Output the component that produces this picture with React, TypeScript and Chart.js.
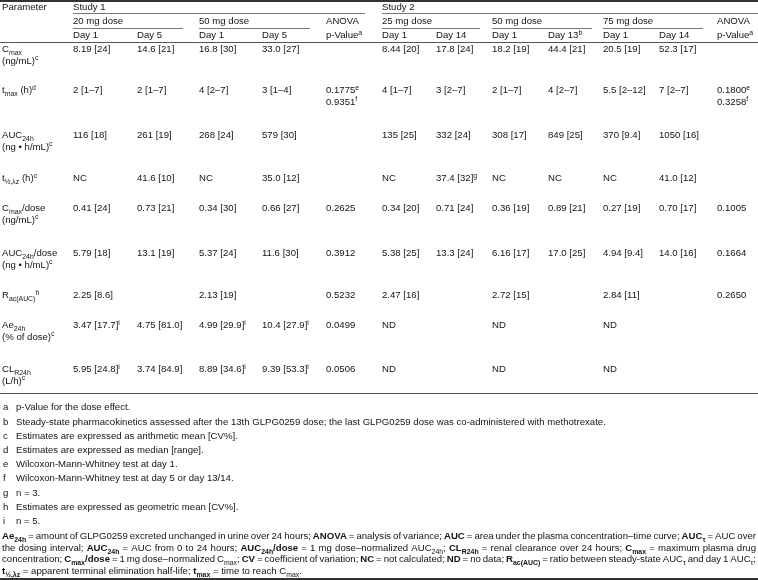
import React, { useEffect, useRef } from "react";
import { Chart, registerables } from "chart.js";

Chart.register(...registerables);

// ---------- DATA ----------
const studies = ["Study 1", "Study 2"];
const doseGroups = ["20 mg dose", "50 mg dose", "ANOVA", "25 mg dose", "50 mg dose", "75 mg dose", "ANOVA"];
const dayLabels = ["Day 1", "Day 5", "Day 1", "Day 5", "p-Value^{a}", "Day 1", "Day 14", "Day 1", "Day 13^{b}", "Day 1", "Day 14", "p-Value^{a}"];

const parameterLabels: string[][] = [
  ["C_{max}", "(ng/mL)^{c}"],
  ["t_{max} (h)^{d}"],
  ["AUC_{24h}", "(ng \u2022 h/mL)^{c}"],
  ["t_{\u00bd,\u03bbz} (h)^{c}"],
  ["C_{max}/dose", "(ng/mL)^{c}"],
  ["AUC_{24h}/dose", "(ng \u2022 h/mL)^{c}"],
  ["R_{ac(AUC)}^{h}"],
  ["Ae_{24h}", "(% of dose)^{c}"],
  ["CL_{R24h}", "(L/h)^{c}"],
];

const cmaxValues = ["8.19 [24]", "14.6 [21]", "16.8 [30]", "33.0 [27]", "", "8.44 [20]", "17.8 [24]", "18.2 [19]", "44.4 [21]", "20.5 [19]", "52.3 [17]", ""];
const tmaxValues = ["2 [1\u20137]", "2 [1\u20137]", "4 [2\u20137]", "3 [1\u20134]", "0.1775^{e}\n0.9351^{f}", "4 [1\u20137]", "3 [2\u20137]", "2 [1\u20137]", "4 [2\u20137]", "5.5 [2\u201312]", "7 [2\u20137]", "0.1800^{e}\n0.3258^{f}"];
const auc24Values = ["116 [18]", "261 [19]", "268 [24]", "579 [30]", "", "135 [25]", "332 [24]", "308 [17]", "849 [25]", "370 [9.4]", "1050 [16]", ""];
const halfLifeValues = ["NC", "41.6 [10]", "NC", "35.0 [12]", "", "NC", "37.4 [32]^{g}", "NC", "NC", "NC", "41.0 [12]", ""];
const cmaxDoseValues = ["0.41 [24]", "0.73 [21]", "0.34 [30]", "0.66 [27]", "0.2625", "0.34 [20]", "0.71 [24]", "0.36 [19]", "0.89 [21]", "0.27 [19]", "0.70 [17]", "0.1005"];
const aucDoseValues = ["5.79 [18]", "13.1 [19]", "5.37 [24]", "11.6 [30]", "0.3912", "5.38 [25]", "13.3 [24]", "6.16 [17]", "17.0 [25]", "4.94 [9.4]", "14.0 [16]", "0.1664"];
const racValues = ["2.25 [8.6]", "", "2.13 [19]", "", "0.5232", "2.47 [16]", "", "2.72 [15]", "", "2.84 [11]", "", "0.2650"];
const aeValues = ["3.47 [17.7]^{i}", "4.75 [81.0]", "4.99 [29.9]^{i}", "10.4 [27.9]^{i}", "0.0499", "ND", "", "ND", "", "ND", "", ""];
const clrValues = ["5.95 [24.8]^{i}", "3.74 [84.9]", "8.89 [34.6]^{i}", "9.39 [53.3]^{i}", "0.0506", "ND", "", "ND", "", "ND", "", ""];

const tableRows = [cmaxValues, tmaxValues, auc24Values, halfLifeValues, cmaxDoseValues, aucDoseValues, racValues, aeValues, clrValues];

const footnoteKeys = ["a", "b", "c", "d", "e", "f", "g", "h", "i"];
const footnoteTexts = [
  "p-Value for the dose effect.",
  "Steady-state pharmacokinetics assessed after the 13th GLPG0259 dose; the last GLPG0259 dose was co-administered with methotrexate.",
  "Estimates are expressed as arithmetic mean [CV%].",
  "Estimates are expressed as median [range].",
  "Wilcoxon-Mann-Whitney test at day 1.",
  "Wilcoxon-Mann-Whitney test at day 5 or day 13/14.",
  "n = 3.",
  "Estimates are expressed as geometric mean [CV%].",
  "n = 5.",
];

const abbreviationLines = [
  "*Ae_{24h}* = amount of GLPG0259 excreted unchanged in urine over 24 hours; *ANOVA* = analysis of variance; *AUC* = area under the plasma concentration\u2013time curve; *AUC_{\u03c4}* = AUC over",
  "the dosing interval; *AUC_{24h}* = AUC from 0 to 24 hours; *AUC_{24h}/dose* = 1 mg dose\u2013normalized AUC_{24h}; *CL_{R24h}* = renal clearance over 24 hours; *C_{max}* = maximum plasma drug",
  "concentration; *C_{max}/dose* = 1 mg dose\u2013normalized C_{max}; *CV* = coefficient of variation; *NC* = not calculated; *ND* = no data; *R_{ac(AUC)}* = ratio between steady-state AUC_{\u03c4} and day 1 AUC_{\u03c4};",
  "*t_{\u00bd,\u03bbz}* = apparent terminal elimination half-life; *t_{max}* = time to reach C_{max}.",
];

// ---------- LAYOUT (in scale units) ----------
const W = 758;
const H = 580;
const colX = [2, 73, 137, 199, 262, 326, 382, 436, 492, 548, 603, 659, 717];
const studyCols = [1, 6];
const doseCols = [1, 3, 5, 6, 8, 10, 12];
const studyRules = [[73, 365], [382, 758]];
const doseRules = [[73, 183], [199, 310], [382, 480], [492, 592], [603, 703]];
const headerY = [7, 21, 35];
const headerRuleY = [13, 28, 42];
const rowY = [49, 90, 135, 178, 208, 253, 295, 325, 369];
const lineGap = 11.5;
const tableBottomY = 393;
const footnoteY0 = 407;
const footnoteGap = 14.2;
const paraY0 = 536;
const paraGap = 11.5;
const FS = 9.6;
const FONT = '"Liberation Sans", Arial, Helvetica, sans-serif';
const TEXT = "#141414";

type Seg = { t: string; kind: "n" | "sub" | "sup"; bold: boolean };

function parseRich(s: string): Seg[] {
  const segs: Seg[] = [];
  let bold = false;
  let buf = "";
  let i = 0;
  const flush = () => {
    if (buf) segs.push({ t: buf, kind: "n", bold });
    buf = "";
  };
  while (i < s.length) {
    const c = s[i];
    if (c === "*") {
      flush();
      bold = !bold;
      i++;
      continue;
    }
    if ((c === "_" || c === "^") && s[i + 1] === "{") {
      flush();
      const end = s.indexOf("}", i + 2);
      segs.push({ t: s.slice(i + 2, end), kind: c === "_" ? "sub" : "sup", bold });
      i = end + 1;
      continue;
    }
    buf += c;
    i++;
  }
  flush();
  return segs;
}

function drawRich(ctx: CanvasRenderingContext2D, s: string, x: number, y: number, size: number, draw = true): number {
  let cx = x;
  for (const seg of parseRich(s)) {
    const sz = seg.kind === "n" ? size : size * 0.72;
    const dy = seg.kind === "sub" ? size * 0.28 : seg.kind === "sup" ? -size * 0.4 : 0;
    ctx.font = `${seg.bold ? "bold " : ""}${sz}px ${FONT}`;
    if (draw) ctx.fillText(seg.t, cx, y + dy);
    cx += ctx.measureText(seg.t).width;
  }
  return cx - x;
}

const tablePlugin = {
  id: "pkTable",
  afterDraw(chart: any) {
    const ctx: CanvasRenderingContext2D = chart.ctx;
    const xs = chart.scales.x;
    const ys = chart.scales.y;
    const X = (v: number) => xs.getPixelForValue(v);
    const Y = (v: number) => ys.getPixelForValue(v);
    const base = (v: number) => Y(v) + FS * 0.36;

    ctx.save();
    ctx.textBaseline = "alphabetic";
    ctx.textAlign = "left";

    const rule = (x0: number, x1: number, y: number, th: number, color: string) => {
      ctx.fillStyle = color;
      ctx.fillRect(Math.round(X(x0)), Math.round(Y(y)), Math.round(X(x1) - X(x0)), th);
    };

    // rules
    rule(0, W, 0, 2, "#333");
    studyRules.forEach(([a, b]) => rule(a, b, headerRuleY[0], 1, "#777"));
    doseRules.forEach(([a, b]) => rule(a, b, headerRuleY[1], 1, "#777"));
    rule(0, W, headerRuleY[2], 1, "#555");
    rule(0, W, tableBottomY, 1, "#555");
    rule(0, W, H - 2, 2, "#333");

    ctx.fillStyle = TEXT;
    // header
    drawRich(ctx, "Parameter", X(colX[0]), base(headerY[0]), FS);
    studies.forEach((s, i) => drawRich(ctx, s, X(colX[studyCols[i]]), base(headerY[0]), FS));
    doseGroups.forEach((s, i) => drawRich(ctx, s, X(colX[doseCols[i]]), base(headerY[1]), FS));
    dayLabels.forEach((s, i) => drawRich(ctx, s, X(colX[i + 1]), base(headerY[2]), FS));

    // body
    parameterLabels.forEach((lines, r) => {
      lines.forEach((ln, k) => drawRich(ctx, ln, X(colX[0]), base(rowY[r] + k * lineGap), FS));
      tableRows[r].forEach((cell, c) => {
        cell.split("\n").forEach((ln, k) => {
          if (ln) drawRich(ctx, ln, X(colX[c + 1]), base(rowY[r] + k * lineGap), FS);
        });
      });
    });

    // footnotes
    footnoteKeys.forEach((k, i) => {
      const y = base(footnoteY0 + i * footnoteGap);
      drawRich(ctx, k, X(3), y, FS);
      drawRich(ctx, footnoteTexts[i], X(16), y, FS);
    });

    // abbreviations paragraph (justified)
    abbreviationLines.forEach((line, i) => {
      const y = base(paraY0 + i * paraGap);
      const words = line.split(" ");
      const last = i === abbreviationLines.length - 1;
      const widths = words.map((w) => drawRich(ctx, w, 0, 0, FS, false));
      ctx.font = `${FS}px ${FONT}`;
      const spaceW = ctx.measureText(" ").width;
      const total = widths.reduce((a, b) => a + b, 0);
      const avail = X(756) - X(2);
      const gap = last ? spaceW : (avail - total) / (words.length - 1);
      let cx = X(2);
      words.forEach((w, j) => {
        drawRich(ctx, w, cx, y, FS);
        cx += widths[j] + gap;
      });
    });

    ctx.restore();
  },
};

export default function App() {
  const ref = useRef<HTMLCanvasElement | null>(null);
  useEffect(() => {
    document.body.style.margin = "0";
    const canvas = ref.current;
    if (!canvas) return;
    const chart = new Chart(canvas, {
      type: "scatter",
      data: { datasets: [] },
      options: {
        animation: false,
        responsive: false,
        devicePixelRatio: 1,
        layout: { padding: 0 },
        plugins: { legend: { display: false }, tooltip: { enabled: false }, title: { display: false } },
        scales: {
          x: { type: "linear", min: 0, max: W, display: false },
          y: { type: "linear", min: 0, max: H, reverse: true, display: false },
        },
      },
      plugins: [
        {
          id: "bg",
          beforeDraw(c: any) {
            c.ctx.save();
            c.ctx.fillStyle = "#fff";
            c.ctx.fillRect(0, 0, c.width, c.height);
            c.ctx.restore();
          },
        },
        tablePlugin,
      ],
    } as any);
    return () => chart.destroy();
  }, []);
  return (
    <div style={{ width: W, height: H, background: "#fff" }}>
      <canvas ref={ref} width={W} height={H} style={{ display: "block", width: W, height: H }} />
    </div>
  );
}
